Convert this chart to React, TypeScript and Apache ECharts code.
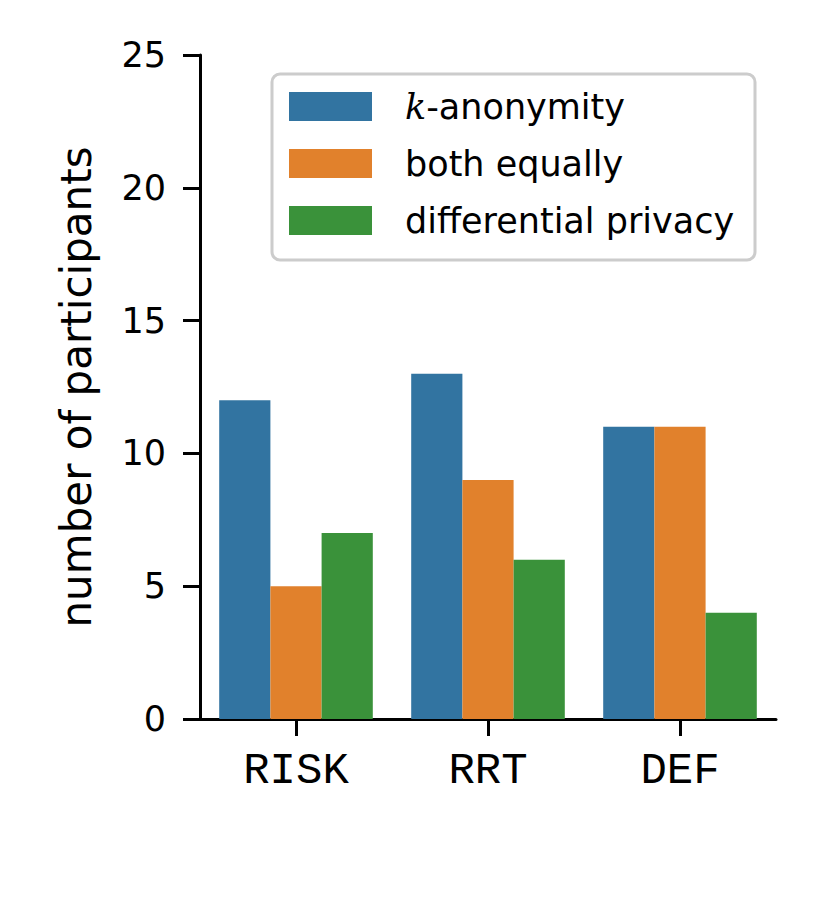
import React, { useEffect, useRef } from "react";
import * as echarts from "echarts";

const categories = ["RISK", "RRT", "DEF"];
const seriesNames = ["k-anonymity", "both equally", "differential privacy"];
const kAnonymity = [12, 13, 11];
const bothEqually = [5, 9, 11];
const differentialPrivacy = [7, 6, 4];
const colors = ["#3274a1", "#e1812c", "#3a923a"];
const yTicks = { min: 0, max: 25, interval: 5 };
const yName = "number of participants";

export default function App() {
  const ref = useRef<HTMLDivElement>(null);
  useEffect(() => {
    if (!ref.current) return;
    const chart = echarts.init(ref.current, null, { renderer: "svg" });
    const values = [kAnonymity, bothEqually, differentialPrivacy];
    chart.setOption({
      animation: false,
      backgroundColor: "#ffffff",
      grid: { left: 200, right: 54, top: 55, bottom: 204, containLabel: false },
      xAxis: {
        type: "category",
        data: categories,
        axisLine: { lineStyle: { color: "#000", width: 3 } },
        axisTick: { show: true, length: 17, alignWithLabel: true, lineStyle: { color: "#000", width: 3 } },
        axisLabel: { color: "#000", fontFamily: "Liberation Mono", fontSize: 44, margin: 30 },
      },
      yAxis: {
        type: "value",
        min: yTicks.min,
        max: yTicks.max,
        interval: yTicks.interval,
        name: yName,
        nameLocation: "middle",
        nameGap: 103,
        nameTextStyle: { color: "#000", fontFamily: "DejaVu Sans", fontSize: 42 },
        splitLine: { show: false },
        axisLine: { show: true, lineStyle: { color: "#000", width: 3 } },
        axisTick: { show: true, length: 17, lineStyle: { color: "#000", width: 3 } },
        axisLabel: { color: "#000", fontFamily: "DejaVu Sans", fontSize: 35, margin: 34 },
      },
      legend: {
        orient: "vertical",
        left: 289,
        top: 89,
        padding: 0,
        itemWidth: 83,
        itemHeight: 29,
        itemGap: 22,
        icon: "rect",
        selectedMode: false,
        data: seriesNames,
        formatter: (name: string) => (name === "k-anonymity" ? "{k|k}-anonymity" : name),
        textStyle: {
          color: "#000",
          fontFamily: "DejaVu Sans",
          fontSize: 35,
          lineHeight: 29,
          padding: [0, 0, 0, 28],
          rich: {
            k: { fontFamily: "DejaVu Serif", fontStyle: "italic", fontSize: 35, lineHeight: 29, color: "#000" },
          },
        },
      },
      graphic: [
        {
          type: "rect",
          z: 0,
          shape: { x: 272, y: 74, width: 483, height: 186, r: 8 },
          style: { fill: "rgba(255,255,255,0.8)", stroke: "#cccccc", lineWidth: 3 },
        },
      ],
      series: seriesNames.map((n, i) => ({
        name: n,
        type: "bar",
        data: values[i],
        barGap: "0%",
        barCategoryGap: "20%",
        itemStyle: { color: colors[i] },
      })),
    });
    return () => chart.dispose();
  }, []);
  return (
    <div
      ref={ref}
      style={{ position: "fixed", left: 0, top: 0, width: 830, height: 923 }}
    />
  );
}
